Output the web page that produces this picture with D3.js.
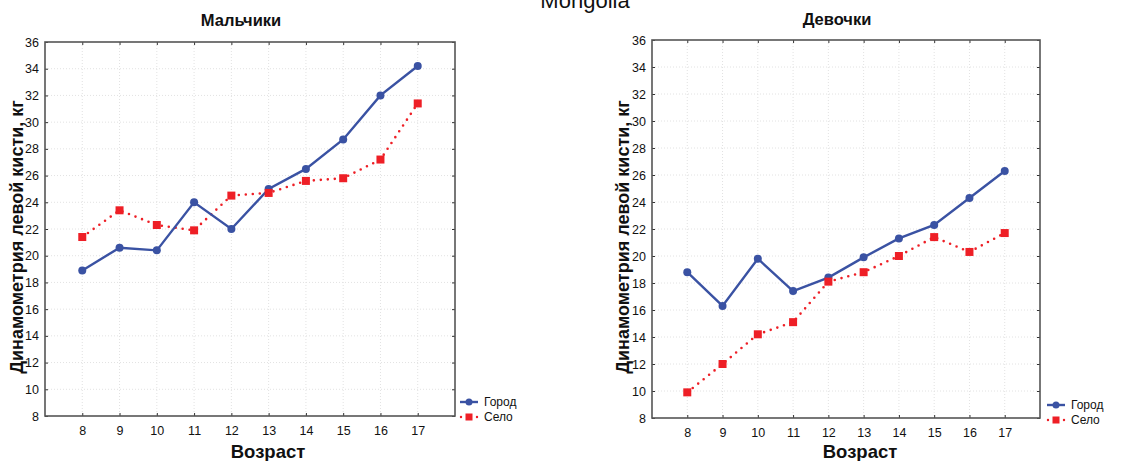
<!DOCTYPE html>
<html><head><meta charset="utf-8">
<script src="https://cdn.jsdelivr.net/npm/d3@7"></script>
<style>
body{margin:0;background:#fff;}
svg{display:block;font-family:"Liberation Sans",Arial,sans-serif;}
</style></head>
<body>
<svg id="chart" width="1147" height="461"></svg>
<script>
const ages = [8,9,10,11,12,13,14,15,16,17];
const yTicks = [8,10,12,14,16,18,20,22,24,26,28,30,32,34,36];
const boysCity  = [18.9,20.6,20.4,24.0,22.0,25.0,26.5,28.7,32.0,34.2];
const boysRural = [21.4,23.4,22.3,21.9,24.5,24.7,25.6,25.8,27.2,31.4];
const girlsCity  = [18.8,16.3,19.8,17.4,18.4,19.9,21.3,22.3,24.3,26.3];
const girlsRural = [9.9,12.0,14.2,15.1,18.1,18.8,20.0,21.4,20.3,21.7];
const seriesNames = ["Город","Село"];
const panelTitles = ["Мальчики","Девочки"];
const mainTitle = "Mongolia";
const xTitle = "Возраст";
const yTitle = "Динамометрия левой кисти, кг";

const blue = "#3a52a3", red = "#ee1f26";
const svg = d3.select("#chart");

svg.append("text").attr("x",585).attr("y",8).attr("text-anchor","middle")
  .attr("font-size",22).attr("fill","#111").text(mainTitle);

const panels = [
  {L:45,R:455,T:42,B:416, title:panelTitles[0], city:boysCity, rural:boysRural, tx:241, ty:26, yx:17, xtx:268, legX:460, legY:402},
  {L:652,R:1040,T:40,B:418, title:panelTitles[1], city:girlsCity, rural:girlsRural, tx:837, ty:25, yx:623, xtx:860, legX:1047, legY:405}
];

panels.forEach(p=>{
  const g = svg.append("g");
  const x = d3.scaleLinear().domain([7,18]).range([p.L,p.R]);
  const y = d3.scaleLinear().domain([8,36]).range([p.B,p.T]);

  // grid
  g.append("g").selectAll("line").data(ages).join("line")
    .attr("x1",d=>x(d)).attr("x2",d=>x(d)).attr("y1",p.T).attr("y2",p.B)
    .attr("stroke","#e2e2e2").attr("stroke-width",1).attr("stroke-dasharray","1,2");
  g.append("g").selectAll("line").data(yTicks.slice(1,-1)).join("line")
    .attr("y1",d=>y(d)).attr("y2",d=>y(d)).attr("x1",p.L).attr("x2",p.R)
    .attr("stroke","#e2e2e2").attr("stroke-width",1).attr("stroke-dasharray","1,2");

  // axes
  const ax = (gen, tr) => {
    const a = g.append("g").attr("transform",tr).call(gen);
    a.select(".domain").remove();
    a.selectAll(".tick line").attr("stroke","#333");
    a.selectAll(".tick text").attr("font-size",12.5).attr("fill","#111")
      .attr("font-family","'Liberation Sans',Arial,sans-serif");
    return a;
  };
  ax(d3.axisBottom(x).tickValues(ages).tickSize(-3).tickPadding(10).tickFormat(d3.format("d")), `translate(0,${p.B})`);
  ax(d3.axisTop(x).tickValues(ages).tickSize(-3).tickFormat(""), `translate(0,${p.T})`);
  ax(d3.axisLeft(y).tickValues(yTicks).tickSize(-3).tickPadding(6).tickFormat(d3.format("d")), `translate(${p.L},0)`);
  ax(d3.axisRight(y).tickValues(yTicks).tickSize(-3).tickFormat(""), `translate(${p.R},0)`);

  g.append("rect").attr("x",p.L).attr("y",p.T).attr("width",p.R-p.L).attr("height",p.B-p.T)
    .attr("fill","none").attr("stroke","#555").attr("stroke-width",1.6);

  // titles
  g.append("text").attr("x",p.tx).attr("y",p.ty).attr("text-anchor","middle")
    .attr("font-size",16.5).attr("font-weight","bold").attr("fill","#111").text(p.title);
  g.append("text").attr("x",p.xtx).attr("y",458).attr("text-anchor","middle")
    .attr("font-size",18.5).attr("font-weight","bold").attr("fill","#111").text(xTitle);
  g.append("text").attr("transform",`translate(${p.yx},${(p.T+p.B)/2 + 8}) rotate(-90)`)
    .attr("text-anchor","middle").attr("dominant-baseline","central")
    .attr("font-size",18).attr("font-weight","bold").attr("fill","#111").text(yTitle);

  const line = d3.line().x((d,i)=>x(ages[i])).y(d=>y(d));
  g.append("path").datum(p.rural).attr("d",line).attr("fill","none")
    .attr("stroke",red).attr("stroke-width",2.6).attr("stroke-linecap","round").attr("stroke-dasharray","0,7");
  g.append("path").datum(p.city).attr("d",line).attr("fill","none")
    .attr("stroke",blue).attr("stroke-width",2.4);
  g.append("g").selectAll("circle").data(p.city).join("circle")
    .attr("cx",(d,i)=>x(ages[i])).attr("cy",d=>y(d)).attr("r",4).attr("fill",blue);
  g.append("g").selectAll("rect").data(p.rural).join("rect")
    .attr("x",(d,i)=>x(ages[i])-4).attr("y",d=>y(d)-4).attr("width",8).attr("height",8).attr("fill",red);

  // legend
  const lg = g.append("g").attr("transform",`translate(${p.legX},${p.legY})`);
  lg.append("line").attr("x1",0).attr("x2",18).attr("y1",0).attr("y2",0).attr("stroke",blue).attr("stroke-width",2.4);
  lg.append("circle").attr("cx",9).attr("cy",0).attr("r",3.5).attr("fill",blue);
  lg.append("text").attr("x",24).attr("y",0).attr("dominant-baseline","central").attr("font-size",12).attr("fill","#111").text(seriesNames[0]);
  lg.append("line").attr("x1",1).attr("x2",18).attr("y1",15).attr("y2",15).attr("stroke",red).attr("stroke-width",2.4)
    .attr("stroke-linecap","round").attr("stroke-dasharray","0,8");
  lg.append("rect").attr("x",5.5).attr("y",11.5).attr("width",7).attr("height",7).attr("fill",red);
  lg.append("text").attr("x",24).attr("y",15).attr("dominant-baseline","central").attr("font-size",12).attr("fill","#111").text(seriesNames[1]);
});
</script>
</body></html>
